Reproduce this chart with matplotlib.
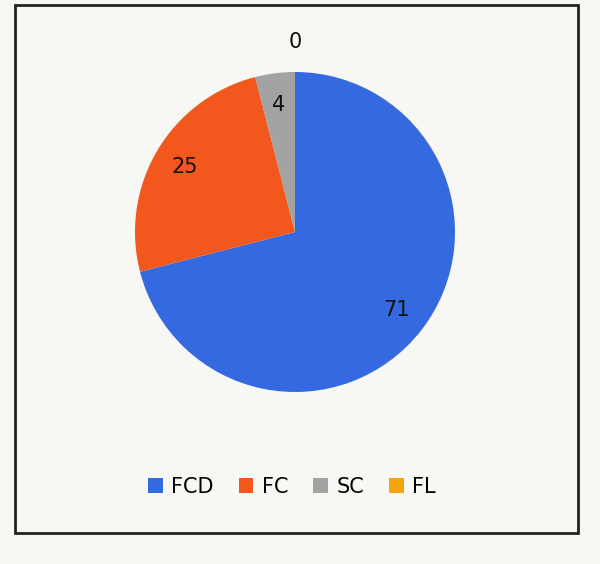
import numpy as np
import matplotlib
matplotlib.use("Agg")
import matplotlib.pyplot as plt
from matplotlib.patches import Rectangle

categories = ["FCD", "FC", "SC", "FL"]
values = [71, 25, 4, 0]
colors = ["#3569E0", "#F2581E", "#A3A3A3", "#F3A50A"]

W, H = 600, 564
fig = plt.figure(figsize=(W / 100, H / 100), dpi=100)
fig.patch.set_facecolor("#F7F7F4")

# frame
fig.patches.append(Rectangle((15 / W, 1 - 533 / H), (578 - 15) / W, (533 - 5) / H,
                             transform=fig.transFigure, fill=False,
                             edgecolor="#222222", linewidth=2))

cx, cy, r = 295, 232, 160
ax = fig.add_axes([(cx - r) / W, 1 - (cy + r) / H, 2 * r / W, 2 * r / H])
wedges, _ = ax.pie(values, colors=colors, startangle=90, counterclock=False,
                   radius=1.0, wedgeprops=dict(linewidth=0))
ax.set_xlim(-1, 1)
ax.set_ylim(-1, 1)
ax.set_aspect("equal")
ax.axis("off")

for w, v in zip(wedges, values):
    mid = np.deg2rad((w.theta1 + w.theta2) / 2)
    d = 0.80 if v > 0 else 1.19
    ax.text(d * np.cos(mid), d * np.sin(mid), str(v), ha="center", va="center",
            fontsize=15, color="#111111", clip_on=False)

handles = [Rectangle((0, 0), 1, 1, facecolor=c, edgecolor="none") for c in colors]
fig.legend(handles, categories, loc="center", bbox_to_anchor=(292 / W, 1 - 487 / H),
           ncol=4, frameon=False, fontsize=15, handlelength=0.7, handleheight=0.7,
           handletextpad=0.4, columnspacing=1.2)

fig.savefig("out.png", dpi=100, facecolor=fig.get_facecolor())
